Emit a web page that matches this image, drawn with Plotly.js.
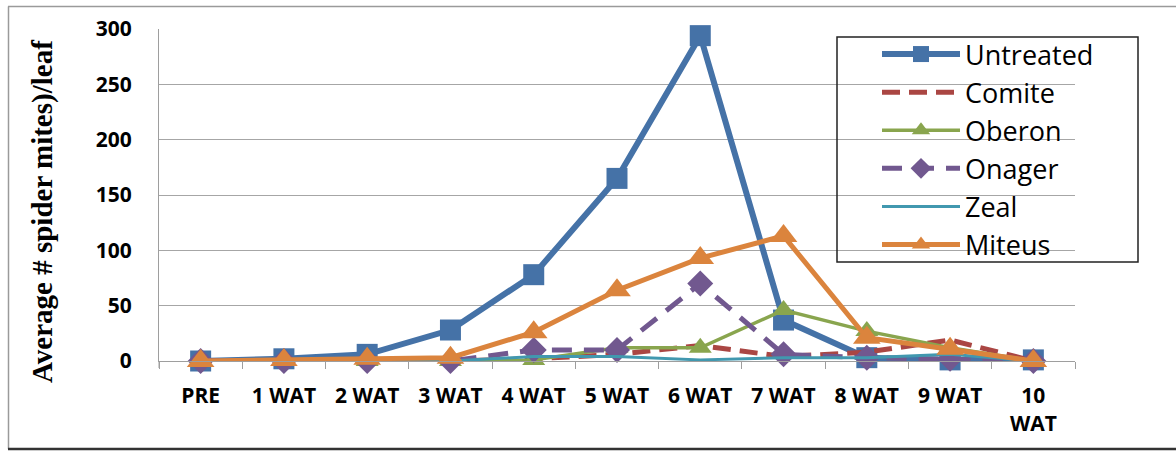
<!DOCTYPE html>
<html>
<head>
<meta charset="utf-8">
<script src="https://cdn.plot.ly/plotly-3.0.1.min.js"></script>
<style>html,body{margin:0;padding:0;background:#fff;}#chart{width:1176px;height:451px;}</style>
</head>
<body>
<div id="chart"></div>
<script>
var categories = ['PRE','1 WAT','2 WAT','3 WAT','4 WAT','5 WAT','6 WAT','7 WAT','8 WAT','9 WAT','10<br>WAT'];
var untreated = [0, 2, 6, 28, 78, 165, 294, 37, 3, 1, 1];
var comite    = [0, 0, 0, 0, 2, 6, 14, 4, 8, 19, 0];
var oberon    = [0, 0, 0, 0, 1, 12, 12, 46, 27, 12, 0];
var onager    = [0, 0, 0, 0, 10, 10, 70, 6, 3, 2, 0];
var zeal      = [0, 0, 0, 0, 4, 4, 1, 3, 3, 6, 0];
var miteus    = [0, 1, 2, 3, 26, 64, 93, 113, 21, 11, 0];
var seriesNames = ['Untreated','Comite','Oberon','Onager','Zeal','Miteus'];

var L = 159, R = 1075, T = 29, B = 361, W = 1176, H = 451;
function px(x){ return (x - L) / (R - L); }
function py(y){ return 1 - (y - T) / (B - T); }

var traces = [
  {name: seriesNames[0], y: untreated, line:{color:'#4572A7', width:6}, marker:{symbol:'square', size:21, color:'#4572A7'}, mode:'lines+markers'},
  {name: seriesNames[1], y: comite, line:{color:'#AA4643', width:5, dash:'18px,9px'}, mode:'lines'},
  {name: seriesNames[2], y: oberon, line:{color:'#89A54E', width:3.5}, marker:{symbol:'triangle-up', size:20, color:'#89A54E'}, mode:'lines+markers'},
  {name: seriesNames[3], y: onager, line:{color:'#71588F', width:5, dash:'20px,12px'}, marker:{symbol:'diamond', size:20, color:'#71588F'}, mode:'lines+markers'},
  {name: seriesNames[4], y: zeal, line:{color:'#4198AF', width:3}, mode:'lines'},
  {name: seriesNames[5], y: miteus, line:{color:'#DB843D', width:5}, marker:{symbol:'triangle-up', size:24, color:'#DB843D'}, mode:'lines+markers'}
];
traces.forEach(function(t){ t.x = categories; t.type = 'scatter'; t.cliponaxis = false; });

var tickFont = {family:'Open Sans', size:21, color:'#000', weight:'bold'};

var layout = {
  width: W, height: H,
  margin: {l: L, r: W - R, t: T, b: H - B},
  paper_bgcolor: '#fff', plot_bgcolor: '#fff',
  showlegend: true,
  legend: {
    x: px(877), y: py(30), xanchor: 'left', yanchor: 'top',
    bgcolor: 'rgba(0,0,0,0)', borderwidth: 0,
    itemwidth: 78,
    font: {family:'Open Sans', size: 27, color:'#000'},
    tracegroupgap: 0
  },
  xaxis: {
    type: 'category', range: [-0.5, 10.5],
    showgrid: false, showline: true, linecolor: '#9e9e9e', linewidth: 1,
    ticks: 'outside', tickson: 'boundaries', ticklen: 7, tickcolor: '#9e9e9e',
    tickfont: tickFont, ticklabelstandoff: 16, zeroline: false
  },
  yaxis: {
    range: [0, 300], dtick: 50, tick0: 0,
    showgrid: true, gridcolor: '#a6a6a6', gridwidth: 1,
    showline: true, linecolor: '#9e9e9e', linewidth: 1,
    ticks: '', tickfont: tickFont, ticklabelstandoff: 22, zeroline: false
  },
  annotations: [{
    text: 'Average # spider mites)/leaf', textangle: -90,
    xref: 'paper', yref: 'paper', x: px(42), y: py(212), xanchor: 'center', yanchor: 'middle',
    showarrow: false, font: {family: 'Liberation Serif', size: 29, color: '#000', weight: 'bold'}
  }],
  shapes: [
    {type:'rect', xref:'paper', yref:'paper', x0: px(837), x1: px(1138), y0: py(37), y1: py(262), line:{color:'#222', width:1.5}, fillcolor:'rgba(0,0,0,0)'},
    {type:'line', xref:'paper', yref:'paper', x0: px(8), x1: px(1176), y0: py(6.5), y1: py(6.5), line:{color:'#9a9a9a', width:1.5}},
    {type:'line', xref:'paper', yref:'paper', x0: px(8.5), x1: px(8.5), y0: py(6.5), y1: py(449), line:{color:'#9a9a9a', width:1.5}},
    {type:'line', xref:'paper', yref:'paper', x0: px(8), x1: px(1176), y0: py(449), y1: py(449), line:{color:'#333', width:2.5}},
    {type:'line', xref:'paper', yref:'paper', x0: 0, x1: 0, y0: py(361), y1: py(368), line:{color:'#9e9e9e', width:1}}
  ]
};

Plotly.newPlot('chart', traces, layout, {displayModeBar: false, staticPlot: true});
</script>
</body>
</html>
